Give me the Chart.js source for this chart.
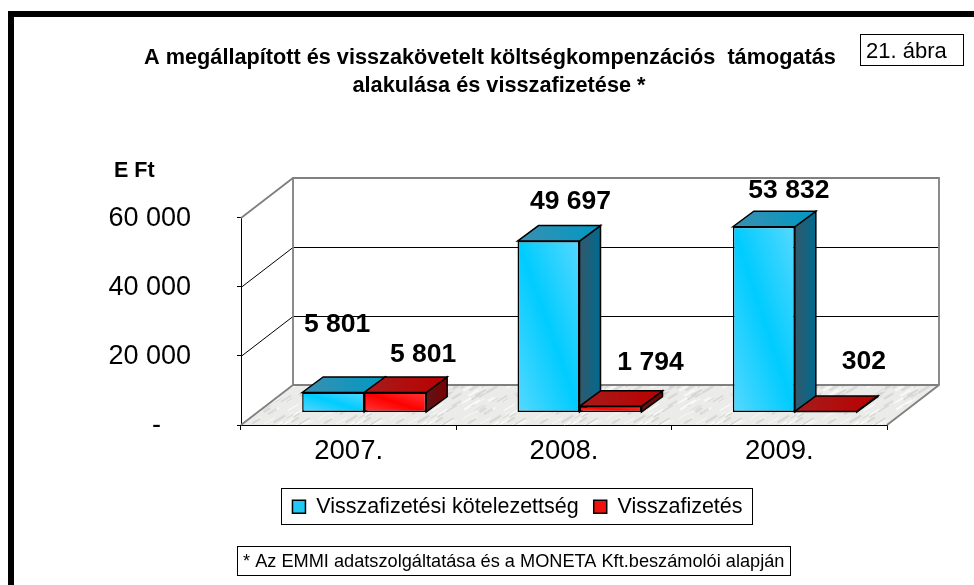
<!DOCTYPE html>
<html lang="hu">
<head>
<meta charset="utf-8">
<title>21. ábra</title>
<script src="https://cdn.jsdelivr.net/npm/chart.js@4"></script>
<style>
  html, body { margin: 0; padding: 0; background: #fff; overflow: hidden; }
  #wrap { position: relative; width: 974px; height: 585px; }
</style>
</head>
<body>
<div id="wrap"><canvas id="chart" width="974" height="585"></canvas></div>
<script>
const categories = ["2007.", "2008.", "2009."];
const kotelezettseg = [5801, 49697, 53832];
const visszafizetes = [5801, 1794, 302];
const yTickLabels = ["-    ", "20 000", "40 000", "60 000"];

const FONT = "'Liberation Sans', Arial, sans-serif";

// the bars stand in the middle of the floor, the depth is faked by hand
const shift = { x: 15.5, y: -12.5 };
const wall = { x: 52, y: -40 };
const barDepth = { x: 21, y: -15.5 };

// label position relative to the top centre of its bar
const labelNudge = [
    [[4, -67.5], [22, -39.5], [25, -36.5]],
    [[28, -37.5], [40, -43.5], [38, -49.5]],
];

const faces = [
    {
        front: ["#56d8ff", "#00ccff", "#56d8ff"],
        top: ["#3a8fb0", "#0099c4"],
        side: ["#33586a", "#006a8f"],
    },
    {
        front: ["#ff3a3a", "#ff0000", "#ff3a3a"],
        top: ["#a51c1c", "#bb0000"],
        side: ["#5a1616", "#7c0000"],
    },
];

function formatValue(v) {
    return String(v).replace(/\B(?=(\d{3})+$)/g, " ");
}

function diagGradient(ctx, x, y, w, h, colors) {
    // band runs from the top left corner to the bottom right one
    const len = Math.hypot(w, h) || 1;
    const nx = h / len, ny = -w / len;
    const e = (w * h) / len;
    const cx = x + w / 2, cy = y + h / 2;
    const g = ctx.createLinearGradient(cx - nx * e, cy - ny * e, cx + nx * e, cy + ny * e);
    colors.forEach((c, i) => g.addColorStop(i / (colors.length - 1), c));
    return g;
}

function poly(ctx, pts, fill, stroke, width) {
    ctx.beginPath();
    pts.forEach((p, i) => (i ? ctx.lineTo(p[0], p[1]) : ctx.moveTo(p[0], p[1])));
    ctx.closePath();
    if (fill) {
        ctx.fillStyle = fill;
        ctx.fill();
    }
    if (stroke) {
        ctx.strokeStyle = stroke;
        ctx.lineWidth = width;
        ctx.stroke();
    }
}

// soft diagonal streaks, a rough copy of the marble fill
function floorPattern(ctx) {
    const size = 72;
    const c = document.createElement("canvas");
    c.width = size;
    c.height = size;
    const p = c.getContext("2d");
    p.fillStyle = "#ebebe9";
    p.fillRect(0, 0, size, size);
    p.lineCap = "round";
    for (let i = 0; i < 90; i++) {
        const a = Math.abs(Math.sin(i * 12.9898) * 43758.5453) % 1;
        const b = Math.abs(Math.sin(i * 78.233) * 12543.137) % 1;
        const x = a * size, y = b * size;
        const len = 4 + (i % 7);
        p.strokeStyle = i % 2 ? "rgba(252,252,250,0.75)" : "rgba(200,200,198,0.55)";
        p.lineWidth = 1 + (i % 3) * 0.6;
        [[0, 0], [-size, 0], [0, -size], [-size, -size], [size, 0], [0, size]].forEach((o) => {
            p.beginPath();
            p.moveTo(x + o[0], y + o[1]);
            p.lineTo(x + o[0] + len, y + o[1] - len * 0.6);
            p.stroke();
        });
    }
    return ctx.createPattern(c, "repeat");
}

const scene = {
    id: "scene",
    afterLayout(chart) {
        const t = chart.titleBlock, l = chart.legend;
        t.left = 0;
        t.right = 998;
        l.left = 41;
        l.right = 994;
        l.top = 481;
        l.bottom = 530;
    },
    beforeDraw(chart) {
        const ctx = chart.ctx;
        ctx.fillStyle = "#000";
        ctx.fillRect(8, 11, 966, 6);
        ctx.fillRect(8, 11, 6, 574);
    },
    beforeDatasetsDraw(chart) {
        const ctx = chart.ctx;
        const { left, right } = chart.chartArea;
        const y = chart.scales.y;
        const base = y.getPixelForValue(0);
        const top = y.getPixelForValue(60000);
        const backL = left + wall.x, backR = right + wall.x;

        poly(ctx, [[left, base], [right, base], [backR, base + wall.y], [backL, base + wall.y]],
            floorPattern(ctx));

        // walls
        ctx.lineWidth = 1;
        ctx.strokeStyle = "#000";
        [20000, 40000].forEach((v) => {
            const py = Math.round(y.getPixelForValue(v)) + 0.5;
            ctx.beginPath();
            ctx.moveTo(left, py);
            ctx.lineTo(backL, py + wall.y);
            ctx.lineTo(backR, py + wall.y);
            ctx.stroke();
        });
        ctx.strokeStyle = "#808080";
        ctx.lineWidth = 1.8;
        ctx.beginPath();
        ctx.moveTo(left, top);
        ctx.lineTo(backL, top + wall.y);
        ctx.lineTo(backR, top + wall.y);
        ctx.lineTo(backR, base + wall.y);
        ctx.lineTo(right, base);
        ctx.moveTo(backR, base + wall.y);
        ctx.lineTo(backL, base + wall.y);
        ctx.lineTo(backL, top + wall.y);
        ctx.moveTo(backL, base + wall.y);
        ctx.lineTo(left, base);
        ctx.stroke();

        // from here on everything stands on the floor
        ctx.save();
        ctx.translate(shift.x, shift.y);
        chart.data.datasets.forEach((ds, d) => {
            const f = faces[d];
            chart.getDatasetMeta(d).data.forEach((el) => {
                const x0 = el.x - el.width / 2, x1 = el.x + el.width / 2;
                const yt = el.y, yb = el.base;
                const dx = barDepth.x, dy = barDepth.y;
                el.options.backgroundColor = diagGradient(ctx, x0, yt, x1 - x0, yb - yt, f.front);
                const side = ctx.createLinearGradient(x1, 0, x1 + dx, 0);
                side.addColorStop(0, f.side[0]);
                side.addColorStop(1, f.side[1]);
                poly(ctx, [[x1, yt], [x1 + dx, yt + dy], [x1 + dx, yb + dy], [x1, yb]], side, "#000", 1.5);
                const cap = ctx.createLinearGradient(x0, 0, x1 + dx, 0);
                cap.addColorStop(0, f.top[0]);
                cap.addColorStop(1, f.top[1]);
                poly(ctx, [[x0, yt], [x0 + dx, yt + dy], [x1 + dx, yt + dy], [x1, yt]], cap, "#000", 1.5);
            });
        });
    },
    afterDatasetsDraw(chart) {
        const ctx = chart.ctx;
        ctx.restore();
        ctx.fillStyle = "#000";
        ctx.font = "bold 26.5px " + FONT;
        ctx.textAlign = "center";
        ctx.textBaseline = "middle";
        chart.data.datasets.forEach((ds, d) => {
            chart.getDatasetMeta(d).data.forEach((el, i) => {
                const n = labelNudge[d][i];
                ctx.fillText(formatValue(ds.data[i]), el.x + shift.x + n[0], el.y + shift.y + n[1]);
            });
        });
    },
    afterDraw(chart) {
        const ctx = chart.ctx;
        ctx.strokeStyle = "#000";
        ctx.lineWidth = 1;
        ctx.strokeRect(281.5, 488.5, 471, 36);
        ctx.fillStyle = "#000";
        ctx.textBaseline = "middle";
        ctx.textAlign = "left";

        ctx.font = "bold 21.5px " + FONT;
        ctx.fillText("E Ft", 114, 171);

        ctx.strokeRect(860.5, 34.5, 103, 31);
        ctx.font = "22px " + FONT;
        ctx.fillText("21. ábra", 866, 52);

        ctx.strokeRect(237.5, 546.5, 553, 29);
        ctx.font = "18.2px " + FONT;
        ctx.fillText("* Az EMMI adatszolgáltatása és a MONETA Kft.beszámolói alapján", 243, 562);
    },
};

new Chart(document.getElementById("chart"), {
    type: "bar",
    plugins: [scene],
    data: {
        labels: categories,
        datasets: [
            {
                label: "Visszafizetési kötelezettség",
                data: kotelezettseg,
                backgroundColor: () => "#1fc8f5",
                borderColor: "#000",
                borderWidth: 1.5,
                borderSkipped: false,
                categoryPercentage: 0.5757,
                barPercentage: 1,
            },
            {
                label: "Visszafizetés",
                data: visszafizetes,
                backgroundColor: () => "#f01010",
                borderColor: "#000",
                borderWidth: 1.5,
                borderSkipped: false,
                categoryPercentage: 0.5757,
                barPercentage: 1,
            },
        ],
    },
    options: {
        responsive: false,
        animation: false,
        events: [],
        layout: { padding: { left: 0, right: 87, top: 0, bottom: 0 } },
        plugins: {
            tooltip: { enabled: false },
            title: {
                display: true,
                text: [
                    "A megállapított és visszakövetelt költségkompenzációs  támogatás   ",
                    "alakulása és visszafizetése *",
                ],
                color: "#000",
                font: { family: FONT, size: 21.7, weight: "bold", lineHeight: 1.29 },
                padding: { top: 44, bottom: 118 },
            },
            legend: {
                position: "bottom",
                labels: {
                    color: "#000",
                    font: { family: FONT, size: 21.5 },
                    boxWidth: 13,
                    boxHeight: 13,
                    padding: 15,
                },
            },
        },
        scales: {
            x: {
                afterFit(s) {
                    s.height = 160 - s.chart.legend.height;
                },
                border: { color: "#000", width: 1 },
                grid: { drawOnChartArea: false, color: "#000", tickLength: 5 },
                ticks: { color: "#000", font: { family: FONT, size: 27.5 }, padding: 5, maxRotation: 0 },
            },
            y: {
                min: 0,
                max: 60000,
                afterFit(s) {
                    s.width = 241;
                },
                border: { color: "#000", width: 1 },
                grid: { drawOnChartArea: false, color: "#000", tickLength: 4 },
                ticks: {
                    stepSize: 20000,
                    color: "#000",
                    font: { family: FONT, size: 27 },
                    padding: 46,
                    labelOffset: 1,
                    callback: (v, i) => yTickLabels[i],
                },
            },
        },
    },
});
</script>
</body>
</html>
